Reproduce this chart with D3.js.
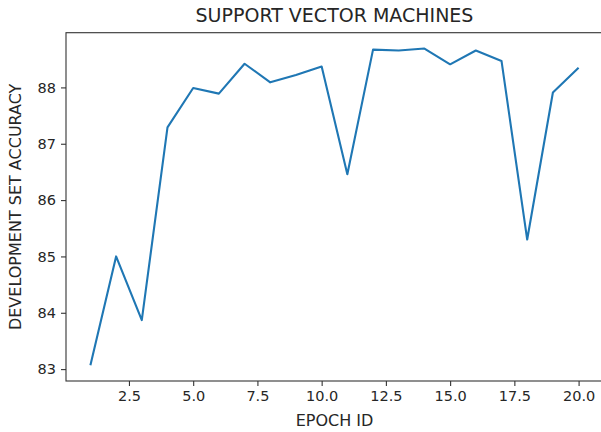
<!DOCTYPE html>
<html>
<head>
<meta charset="utf-8">
<script src="https://cdn.jsdelivr.net/npm/d3@7/dist/d3.min.js"></script>
<style>
  body { margin: 0; background: #fff; }
  svg text { font-family: "DejaVu Sans", sans-serif; fill: #262626; }
</style>
</head>
<body>
<div id="chart"></div>
<script>
// epochs and dev set accuracy
var epochs = [1, 2, 3, 4, 5, 6, 7, 8, 9, 10, 11, 12, 13, 14, 15, 16, 17, 18, 19, 20];
var accuracy = [83.07, 85.0, 83.87, 87.29, 87.99, 87.89, 88.42, 88.09, 88.22, 88.37,
                86.46, 88.67, 88.655, 88.69, 88.41, 88.655, 88.47, 85.30, 87.91, 88.35];
var xTicks = [2.5, 5.0, 7.5, 10.0, 12.5, 15.0, 17.5, 20.0];
var yTicks = [83, 84, 85, 86, 87, 88];

var width = 601, height = 432;
var m = {left: 66, top: 32.7, right: 603, bottom: 381};

var data = epochs.map(function (e, i) { return {x: e, y: accuracy[i]}; });

var svg = d3.select("#chart").append("svg")
  .attr("width", width).attr("height", height);

// matplotlib style 5% margins
var xext = d3.extent(epochs), yext = d3.extent(accuracy);
var xpad = (xext[1] - xext[0]) * 0.05, ypad = (yext[1] - yext[0]) * 0.05;

var xScale = d3.scaleLinear()
  .domain([xext[0] - xpad, xext[1] + xpad])
  .range([m.left, m.right]);
var yScale = d3.scaleLinear()
  .domain([yext[0] - ypad, yext[1] + ypad])
  .range([m.bottom, m.top]);

var line = d3.line()
  .x(function (d) { return xScale(d.x); })
  .y(function (d) { return yScale(d.y); });

svg.append("path")
  .datum(data)
  .attr("d", line)
  .attr("fill", "none")
  .attr("stroke", "#1f77b4")
  .attr("stroke-width", 2.1)
  .attr("stroke-linejoin", "round");

var xAxis = d3.axisBottom(xScale).tickValues(xTicks)
  .tickFormat(d3.format(".1f")).tickSizeOuter(0).tickSize(5).tickPadding(5);
var yAxis = d3.axisLeft(yScale).tickValues(yTicks)
  .tickFormat(d3.format("d")).tickSizeOuter(0).tickSize(5).tickPadding(5);

var gx = svg.append("g").attr("transform", "translate(0," + m.bottom + ")").call(xAxis);
var gy = svg.append("g").attr("transform", "translate(" + m.left + ",0)").call(yAxis);

[gx, gy].forEach(function (g) {
  g.selectAll("text").attr("font-size", 14.5).attr("font-family", "DejaVu Sans").attr("fill", "#262626");
  g.selectAll("line").attr("stroke", "#333").attr("stroke-width", 1.1);
  g.select(".domain").remove();
});

// spines
svg.append("rect")
  .attr("x", m.left).attr("y", m.top)
  .attr("width", m.right - m.left).attr("height", m.bottom - m.top)
  .attr("fill", "none").attr("stroke", "#333").attr("stroke-width", 1.1);

svg.append("text")
  .attr("x", (m.left + m.right) / 2).attr("y", 22)
  .attr("text-anchor", "middle").attr("font-size", 19)
  .text("SUPPORT VECTOR MACHINES");

svg.append("text")
  .attr("x", (m.left + m.right) / 2).attr("y", 426)
  .attr("text-anchor", "middle").attr("font-size", 16)
  .text("EPOCH ID");

svg.append("text")
  .attr("transform", "translate(20.5," + ((m.top + m.bottom) / 2) + ") rotate(-90)")
  .attr("text-anchor", "middle").attr("font-size", 16)
  .text("DEVELOPMENT SET ACCURACY");
</script>
</body>
</html>
